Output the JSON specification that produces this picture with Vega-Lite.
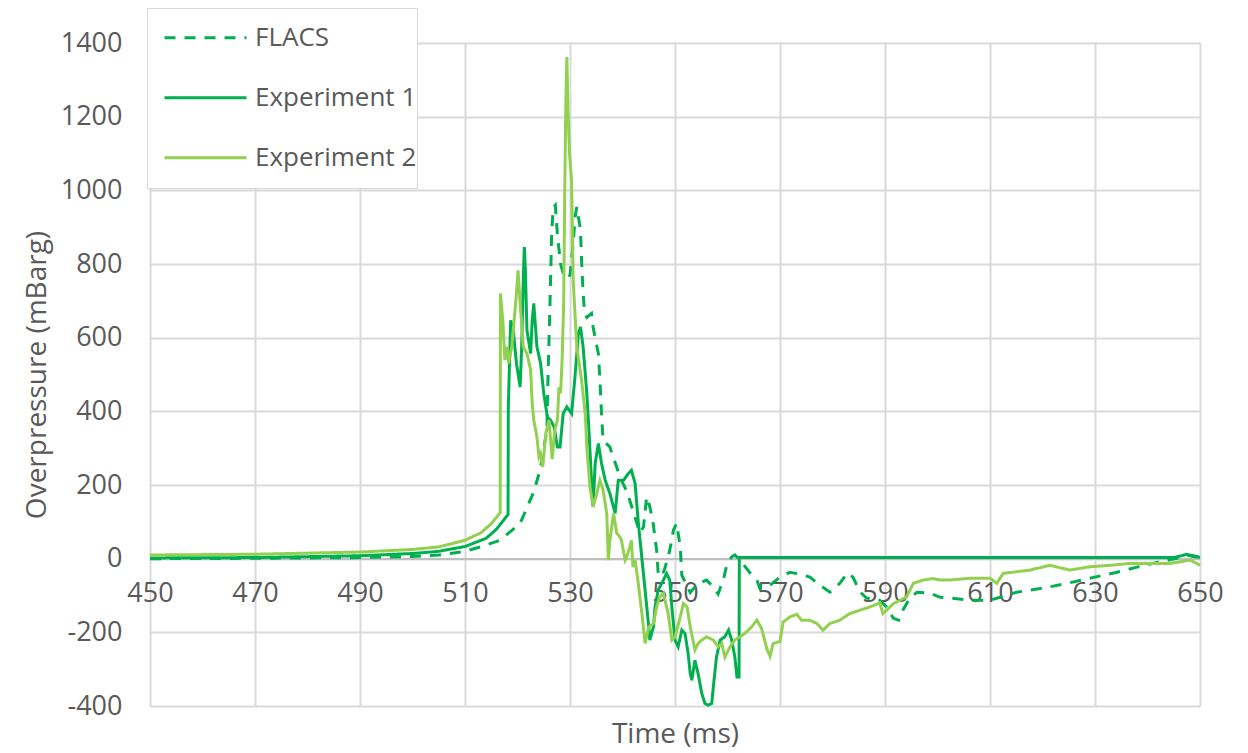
{
 "$schema": "https://vega.github.io/schema/vega-lite/v6.json",
 "width": 1050,
 "height": 663,
 "autosize": {"type": "none"},
 "padding": {"left": 150, "top": 43, "right": 48, "bottom": 47},
 "background": "white",
 "config": {
  "view": {"stroke": null},
  "font": "Open Sans",
  "legend": {
   "orient": "none", "legendX": -3, "legendY": -35, "title": null,
   "symbolType": "stroke", "symbolSize": 6724, "symbolStrokeWidth": 3,
   "labelFontSize": 26, "labelColor": "#595959", "labelOffset": 7, "symbolOffset": 16, "labelLimit": 400,
   "clipHeight": 59.5, "padding": 0, "rowPadding": 0,
   "fillColor": "white", "strokeColor": "#D9D9D9"
  }
 },
 "data": {"values": [
  {"s":"FLACS","t":450,"p":0},{"s":"FLACS","t":470,"p":1},{"s":"FLACS","t":490,"p":3},{"s":"FLACS","t":500,"p":6},{"s":"FLACS","t":505,"p":10},{"s":"FLACS","t":510,"p":20},{"s":"FLACS","t":513,"p":32},{"s":"FLACS","t":516.7,"p":50},{"s":"FLACS","t":520.5,"p":96},{"s":"FLACS","t":523,"p":178},{"s":"FLACS","t":524.3,"p":240},{"s":"FLACS","t":525,"p":300},{"s":"FLACS","t":525.6,"p":349},{"s":"FLACS","t":525.8,"p":485},{"s":"FLACS","t":526.2,"p":700},{"s":"FLACS","t":526.5,"p":880},{"s":"FLACS","t":526.8,"p":954},{"s":"FLACS","t":527.2,"p":960},{"s":"FLACS","t":527.6,"p":880},{"s":"FLACS","t":528.2,"p":800},{"s":"FLACS","t":528.7,"p":775},{"s":"FLACS","t":529.4,"p":760},{"s":"FLACS","t":530,"p":770},{"s":"FLACS","t":530.5,"p":840},{"s":"FLACS","t":531,"p":930},{"s":"FLACS","t":531.3,"p":955},{"s":"FLACS","t":532,"p":892},{"s":"FLACS","t":532.2,"p":810},{"s":"FLACS","t":532.5,"p":720},{"s":"FLACS","t":532.8,"p":666},{"s":"FLACS","t":533.2,"p":655},{"s":"FLACS","t":534.1,"p":666},{"s":"FLACS","t":534.4,"p":629},{"s":"FLACS","t":535,"p":584},{"s":"FLACS","t":535.4,"p":557},{"s":"FLACS","t":535.7,"p":485},{"s":"FLACS","t":536,"p":394},{"s":"FLACS","t":536.3,"p":322},{"s":"FLACS","t":536.9,"p":313},{"s":"FLACS","t":537.6,"p":303},{"s":"FLACS","t":538.2,"p":276},{"s":"FLACS","t":538.9,"p":249},{"s":"FLACS","t":539.5,"p":222},{"s":"FLACS","t":540.9,"p":180},{"s":"FLACS","t":542,"p":130},{"s":"FLACS","t":543.3,"p":70},{"s":"FLACS","t":544,"p":86},{"s":"FLACS","t":544.6,"p":168},{"s":"FLACS","t":545.2,"p":141},{"s":"FLACS","t":545.8,"p":100},{"s":"FLACS","t":546.5,"p":23},{"s":"FLACS","t":546.8,"p":-40},{"s":"FLACS","t":547.5,"p":-49},{"s":"FLACS","t":548.2,"p":-20},{"s":"FLACS","t":549,"p":23},{"s":"FLACS","t":549.7,"p":77},{"s":"FLACS","t":550.3,"p":96},{"s":"FLACS","t":551,"p":32},{"s":"FLACS","t":551.3,"p":-45},{"s":"FLACS","t":552.9,"p":-92},{"s":"FLACS","t":554.2,"p":-70},{"s":"FLACS","t":556,"p":-58},{"s":"FLACS","t":557.3,"p":-77},{"s":"FLACS","t":558.2,"p":-96},{"s":"FLACS","t":559.2,"p":-58},{"s":"FLACS","t":559.9,"p":-15},{"s":"FLACS","t":560.8,"p":5},{"s":"FLACS","t":561.4,"p":10},{"s":"FLACS","t":562.4,"p":-4},{"s":"FLACS","t":564.3,"p":-39},{"s":"FLACS","t":565.6,"p":-58},{"s":"FLACS","t":566.2,"p":-82},{"s":"FLACS","t":568.1,"p":-72},{"s":"FLACS","t":570,"p":-50},{"s":"FLACS","t":571.9,"p":-37},{"s":"FLACS","t":573.8,"p":-42},{"s":"FLACS","t":575.7,"p":-50},{"s":"FLACS","t":577.6,"p":-72},{"s":"FLACS","t":579.5,"p":-91},{"s":"FLACS","t":581.4,"p":-67},{"s":"FLACS","t":582.8,"p":-39},{"s":"FLACS","t":583.9,"p":-50},{"s":"FLACS","t":585.2,"p":-90},{"s":"FLACS","t":586.5,"p":-107},{"s":"FLACS","t":589,"p":-113},{"s":"FLACS","t":590.3,"p":-131},{"s":"FLACS","t":591.6,"p":-162},{"s":"FLACS","t":592.6,"p":-167},{"s":"FLACS","t":593.4,"p":-140},{"s":"FLACS","t":594.8,"p":-105},{"s":"FLACS","t":596.1,"p":-91},{"s":"FLACS","t":598.6,"p":-94},{"s":"FLACS","t":600.5,"p":-105},{"s":"FLACS","t":602.4,"p":-107},{"s":"FLACS","t":606.2,"p":-113},{"s":"FLACS","t":610,"p":-113},{"s":"FLACS","t":615.1,"p":-91},{"s":"FLACS","t":620.1,"p":-80},{"s":"FLACS","t":624.7,"p":-67},{"s":"FLACS","t":629,"p":-53},{"s":"FLACS","t":634.2,"p":-37},{"s":"FLACS","t":638,"p":-23},{"s":"FLACS","t":641.8,"p":-10},{"s":"FLACS","t":645.6,"p":1},{"s":"FLACS","t":648.1,"p":10},{"s":"FLACS","t":650,"p":4},

  {"s":"Experiment 1","t":450,"p":2},{"s":"Experiment 1","t":470,"p":3},{"s":"Experiment 1","t":490,"p":8},{"s":"Experiment 1","t":500,"p":14},{"s":"Experiment 1","t":505,"p":20},{"s":"Experiment 1","t":510,"p":33},{"s":"Experiment 1","t":514,"p":55},{"s":"Experiment 1","t":516,"p":80},{"s":"Experiment 1","t":518.2,"p":120},{"s":"Experiment 1","t":518.25,"p":411},{"s":"Experiment 1","t":518.7,"p":647},{"s":"Experiment 1","t":519.2,"p":620},{"s":"Experiment 1","t":519.8,"p":530},{"s":"Experiment 1","t":520.5,"p":466},{"s":"Experiment 1","t":520.8,"p":575},{"s":"Experiment 1","t":521.1,"p":760},{"s":"Experiment 1","t":521.3,"p":846},{"s":"Experiment 1","t":521.5,"p":783},{"s":"Experiment 1","t":521.8,"p":620},{"s":"Experiment 1","t":522.5,"p":557},{"s":"Experiment 1","t":522.8,"p":647},{"s":"Experiment 1","t":523.1,"p":693},{"s":"Experiment 1","t":523.7,"p":575},{"s":"Experiment 1","t":524.4,"p":530},{"s":"Experiment 1","t":525,"p":449},{"s":"Experiment 1","t":525.7,"p":384},{"s":"Experiment 1","t":526.3,"p":376},{"s":"Experiment 1","t":527,"p":357},{"s":"Experiment 1","t":527.6,"p":303},{"s":"Experiment 1","t":528.1,"p":303},{"s":"Experiment 1","t":528.7,"p":394},{"s":"Experiment 1","t":529.4,"p":412},{"s":"Experiment 1","t":530.3,"p":394},{"s":"Experiment 1","t":530.9,"p":485},{"s":"Experiment 1","t":531.6,"p":612},{"s":"Experiment 1","t":532,"p":629},{"s":"Experiment 1","t":532.5,"p":575},{"s":"Experiment 1","t":532.8,"p":521},{"s":"Experiment 1","t":533.2,"p":449},{"s":"Experiment 1","t":533.5,"p":376},{"s":"Experiment 1","t":534.1,"p":213},{"s":"Experiment 1","t":534.4,"p":141},{"s":"Experiment 1","t":534.8,"p":259},{"s":"Experiment 1","t":535.4,"p":313},{"s":"Experiment 1","t":536,"p":259},{"s":"Experiment 1","t":536.7,"p":213},{"s":"Experiment 1","t":537.6,"p":177},{"s":"Experiment 1","t":538.6,"p":123},{"s":"Experiment 1","t":539.2,"p":213},{"s":"Experiment 1","t":540.2,"p":213},{"s":"Experiment 1","t":541.1,"p":231},{"s":"Experiment 1","t":541.7,"p":240},{"s":"Experiment 1","t":542.4,"p":204},{"s":"Experiment 1","t":543,"p":100},{"s":"Experiment 1","t":543.7,"p":0},{"s":"Experiment 1","t":544.3,"p":-85},{"s":"Experiment 1","t":545,"p":-185},{"s":"Experiment 1","t":545.2,"p":-221},{"s":"Experiment 1","t":545.9,"p":-185},{"s":"Experiment 1","t":546.2,"p":-131},{"s":"Experiment 1","t":546.8,"p":-85},{"s":"Experiment 1","t":547.8,"p":-58},{"s":"Experiment 1","t":548.4,"p":-40},{"s":"Experiment 1","t":549,"p":-58},{"s":"Experiment 1","t":549.4,"p":-131},{"s":"Experiment 1","t":550,"p":-221},{"s":"Experiment 1","t":550.6,"p":-239},{"s":"Experiment 1","t":551.3,"p":-194},{"s":"Experiment 1","t":551.9,"p":-203},{"s":"Experiment 1","t":552.5,"p":-257},{"s":"Experiment 1","t":552.9,"p":-312},{"s":"Experiment 1","t":553.2,"p":-330},{"s":"Experiment 1","t":553.8,"p":-276},{"s":"Experiment 1","t":554.4,"p":-312},{"s":"Experiment 1","t":555.1,"p":-366},{"s":"Experiment 1","t":555.7,"p":-393},{"s":"Experiment 1","t":556.3,"p":-398},{"s":"Experiment 1","t":557,"p":-393},{"s":"Experiment 1","t":557.3,"p":-348},{"s":"Experiment 1","t":557.9,"p":-267},{"s":"Experiment 1","t":558.6,"p":-221},{"s":"Experiment 1","t":559.5,"p":-212},{"s":"Experiment 1","t":560.2,"p":-194},{"s":"Experiment 1","t":560.8,"p":-221},{"s":"Experiment 1","t":561.4,"p":-267},{"s":"Experiment 1","t":561.8,"p":-321},{"s":"Experiment 1","t":562.2,"p":-321},{"s":"Experiment 1","t":562.25,"p":3},{"s":"Experiment 1","t":600,"p":3},{"s":"Experiment 1","t":645,"p":3},{"s":"Experiment 1","t":646.5,"p":8},{"s":"Experiment 1","t":647.5,"p":12},{"s":"Experiment 1","t":648.5,"p":6},{"s":"Experiment 1","t":650,"p":4},

  {"s":"Experiment 2","t":450,"p":10},{"s":"Experiment 2","t":470,"p":12},{"s":"Experiment 2","t":490,"p":18},{"s":"Experiment 2","t":500,"p":25},{"s":"Experiment 2","t":505,"p":32},{"s":"Experiment 2","t":510,"p":50},{"s":"Experiment 2","t":513,"p":70},{"s":"Experiment 2","t":515,"p":95},{"s":"Experiment 2","t":516.7,"p":125},{"s":"Experiment 2","t":516.75,"p":720},{"s":"Experiment 2","t":517.2,"p":647},{"s":"Experiment 2","t":517.6,"p":539},{"s":"Experiment 2","t":518,"p":575},{"s":"Experiment 2","t":518.3,"p":530},{"s":"Experiment 2","t":518.9,"p":575},{"s":"Experiment 2","t":519.2,"p":620},{"s":"Experiment 2","t":519.8,"p":720},{"s":"Experiment 2","t":520.1,"p":783},{"s":"Experiment 2","t":520.5,"p":693},{"s":"Experiment 2","t":521.1,"p":575},{"s":"Experiment 2","t":521.8,"p":557},{"s":"Experiment 2","t":522.5,"p":512},{"s":"Experiment 2","t":522.8,"p":422},{"s":"Experiment 2","t":523.1,"p":376},{"s":"Experiment 2","t":523.7,"p":330},{"s":"Experiment 2","t":524.1,"p":276},{"s":"Experiment 2","t":524.4,"p":285},{"s":"Experiment 2","t":524.8,"p":249},{"s":"Experiment 2","t":525.4,"p":340},{"s":"Experiment 2","t":526,"p":376},{"s":"Experiment 2","t":526.6,"p":270},{"s":"Experiment 2","t":527.1,"p":349},{"s":"Experiment 2","t":527.6,"p":376},{"s":"Experiment 2","t":527.9,"p":466},{"s":"Experiment 2","t":528.2,"p":449},{"s":"Experiment 2","t":528.5,"p":539},{"s":"Experiment 2","t":528.8,"p":700},{"s":"Experiment 2","t":529,"p":1000},{"s":"Experiment 2","t":529.2,"p":1230},{"s":"Experiment 2","t":529.4,"p":1362},{"s":"Experiment 2","t":529.6,"p":1230},{"s":"Experiment 2","t":529.9,"p":1100},{"s":"Experiment 2","t":530.3,"p":1028},{"s":"Experiment 2","t":530.6,"p":756},{"s":"Experiment 2","t":531.3,"p":575},{"s":"Experiment 2","t":532.2,"p":485},{"s":"Experiment 2","t":532.9,"p":394},{"s":"Experiment 2","t":533.2,"p":303},{"s":"Experiment 2","t":533.8,"p":195},{"s":"Experiment 2","t":534.4,"p":141},{"s":"Experiment 2","t":535.1,"p":177},{"s":"Experiment 2","t":535.7,"p":213},{"s":"Experiment 2","t":536.3,"p":186},{"s":"Experiment 2","t":537,"p":123},{"s":"Experiment 2","t":537.3,"p":-4},{"s":"Experiment 2","t":537.6,"p":50},{"s":"Experiment 2","t":538.3,"p":123},{"s":"Experiment 2","t":538.9,"p":69},{"s":"Experiment 2","t":539.5,"p":59},{"s":"Experiment 2","t":539.8,"p":50},{"s":"Experiment 2","t":540.5,"p":-4},{"s":"Experiment 2","t":540.8,"p":5},{"s":"Experiment 2","t":541.4,"p":32},{"s":"Experiment 2","t":541.7,"p":50},{"s":"Experiment 2","t":542,"p":-23},{"s":"Experiment 2","t":542.4,"p":-4},{"s":"Experiment 2","t":543,"p":-67},{"s":"Experiment 2","t":543.7,"p":-149},{"s":"Experiment 2","t":544.3,"p":-230},{"s":"Experiment 2","t":545,"p":-185},{"s":"Experiment 2","t":545.9,"p":-176},{"s":"Experiment 2","t":546.5,"p":-131},{"s":"Experiment 2","t":547.1,"p":-104},{"s":"Experiment 2","t":547.8,"p":-94},{"s":"Experiment 2","t":548.7,"p":-149},{"s":"Experiment 2","t":549.4,"p":-221},{"s":"Experiment 2","t":550,"p":-212},{"s":"Experiment 2","t":551,"p":-158},{"s":"Experiment 2","t":551.6,"p":-122},{"s":"Experiment 2","t":552.3,"p":-131},{"s":"Experiment 2","t":552.9,"p":-185},{"s":"Experiment 2","t":553.8,"p":-248},{"s":"Experiment 2","t":554.4,"p":-230},{"s":"Experiment 2","t":555.1,"p":-221},{"s":"Experiment 2","t":556,"p":-212},{"s":"Experiment 2","t":557.3,"p":-221},{"s":"Experiment 2","t":558.2,"p":-239},{"s":"Experiment 2","t":558.9,"p":-230},{"s":"Experiment 2","t":559.5,"p":-267},{"s":"Experiment 2","t":560.5,"p":-239},{"s":"Experiment 2","t":561.4,"p":-221},{"s":"Experiment 2","t":562.4,"p":-212},{"s":"Experiment 2","t":563.3,"p":-203},{"s":"Experiment 2","t":564.6,"p":-185},{"s":"Experiment 2","t":565.6,"p":-167},{"s":"Experiment 2","t":566.5,"p":-190},{"s":"Experiment 2","t":567.5,"p":-245},{"s":"Experiment 2","t":568.1,"p":-265},{"s":"Experiment 2","t":568.7,"p":-230},{"s":"Experiment 2","t":570,"p":-225},{"s":"Experiment 2","t":570.6,"p":-172},{"s":"Experiment 2","t":571.9,"p":-158},{"s":"Experiment 2","t":573.2,"p":-151},{"s":"Experiment 2","t":574.1,"p":-167},{"s":"Experiment 2","t":575.7,"p":-167},{"s":"Experiment 2","t":577,"p":-176},{"s":"Experiment 2","t":578.2,"p":-194},{"s":"Experiment 2","t":579.5,"p":-176},{"s":"Experiment 2","t":581.4,"p":-167},{"s":"Experiment 2","t":583.3,"p":-149},{"s":"Experiment 2","t":585.2,"p":-140},{"s":"Experiment 2","t":587.1,"p":-131},{"s":"Experiment 2","t":589,"p":-120},{"s":"Experiment 2","t":589.6,"p":-149},{"s":"Experiment 2","t":590.3,"p":-140},{"s":"Experiment 2","t":591.6,"p":-122},{"s":"Experiment 2","t":594.1,"p":-104},{"s":"Experiment 2","t":595.4,"p":-67},{"s":"Experiment 2","t":597.3,"p":-58},{"s":"Experiment 2","t":599.2,"p":-54},{"s":"Experiment 2","t":600.5,"p":-58},{"s":"Experiment 2","t":602.4,"p":-58},{"s":"Experiment 2","t":606.2,"p":-53},{"s":"Experiment 2","t":610,"p":-53},{"s":"Experiment 2","t":611.3,"p":-67},{"s":"Experiment 2","t":612.5,"p":-40},{"s":"Experiment 2","t":617.6,"p":-31},{"s":"Experiment 2","t":621.4,"p":-18},{"s":"Experiment 2","t":625.2,"p":-31},{"s":"Experiment 2","t":629,"p":-22},{"s":"Experiment 2","t":632.9,"p":-18},{"s":"Experiment 2","t":636.7,"p":-13},{"s":"Experiment 2","t":640.5,"p":-13},{"s":"Experiment 2","t":644.3,"p":-13},{"s":"Experiment 2","t":648.1,"p":-4},{"s":"Experiment 2","t":649.4,"p":-13},{"s":"Experiment 2","t":650,"p":-18}
 ]},
 "mark": {"type": "line", "strokeWidth": 3},
 "encoding": {
  "x": {
   "field": "t", "type": "quantitative",
   "scale": {"domain": [450, 650], "nice": false, "zero": false},
   "axis": {
    "title": "Time (ms)", "values": [450, 470, 490, 510, 530, 550, 570, 590, 610, 630, 650],
    "labelExpr": "'' + datum.value",
    "offset": -147.5, "domain": true, "domainColor": "#BFBFBF", "domainWidth": 2,
    "ticks": false, "labelPadding": 22, "labelFontSize": 27, "labelColor": "#595959", "labelFlush": false,
    "grid": true, "gridColor": "#D9D9D9", "gridWidth": 2,
    "titleFontSize": 28, "titleFontWeight": "normal", "titleColor": "#595959",
    "titleY": 176, "titleBaseline": "middle"
   }
  },
  "y": {
   "field": "p", "type": "quantitative",
   "scale": {"domain": [-400, 1400], "nice": false, "zero": false},
   "axis": {
    "title": "Overpressure (mBarg)", "values": [-400, -200, 0, 200, 400, 600, 800, 1000, 1200, 1400],
    "labelExpr": "'' + datum.value",
    "domain": false, "ticks": false, "labelPadding": 28, "labelFontSize": 27, "labelColor": "#595959",
    "grid": true, "gridColor": "#D9D9D9", "gridWidth": 2,
    "titleFontSize": 28, "titleFontWeight": "normal", "titleColor": "#595959",
    "titleX": -113, "titleBaseline": "middle"
   }
  },
  "color": {
   "field": "s", "type": "nominal",
   "scale": {"domain": ["FLACS", "Experiment 1", "Experiment 2"], "range": ["#00B050", "#00B050", "#92D050"]}
  },
  "strokeDash": {
   "field": "s", "type": "nominal",
   "scale": {"domain": ["FLACS", "Experiment 1", "Experiment 2"], "range": [[11, 9], [1, 0], [1, 0]]}
  }
 }
}
